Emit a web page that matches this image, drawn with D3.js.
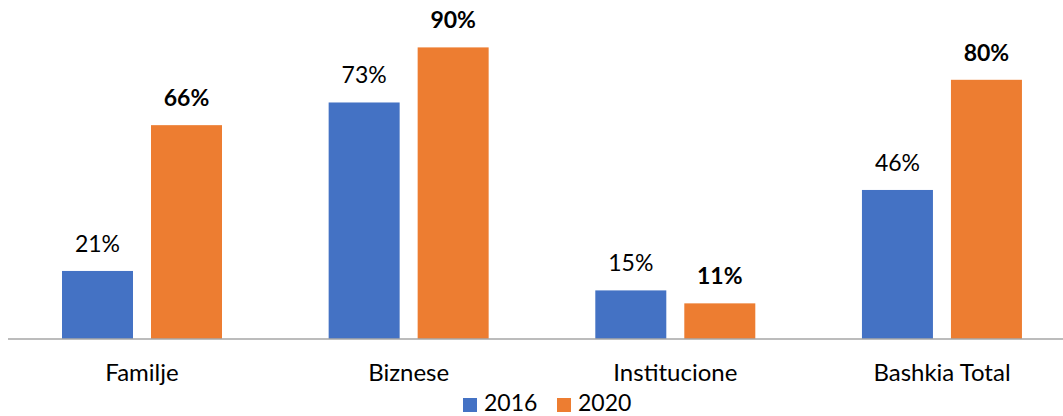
<!DOCTYPE html>
<html><head><meta charset="utf-8">
<script src="https://cdn.jsdelivr.net/npm/d3@7"></script>
<style>body{margin:0;background:#fff;} text{font-family:Lato,"Open Sans",sans-serif;fill:#000;}</style>
</head><body>
<svg id="c" width="1063" height="416"></svg>
<script>
const categories = ["Familje","Biznese","Institucione","Bashkia Total"];
const series = ["2016","2020"];
const values2016 = [21,73,15,46];
const values2020 = [66,90,11,80];
const colors = ["#4472C4","#ED7D31"];
const boldLabels = [false,true];

const svg = d3.select("#c");
const baseY = 339;
const y = d3.scaleLinear().domain([0,100]).range([baseY, baseY-324]);
const x0 = d3.scaleBand().domain(categories).range([8.7,1075.3]).padding(0);
const x1 = d3.scaleBand().domain(series).range([53.3,213.3]).paddingInner(18/89).paddingOuter(0);

const data = categories.map((c,i)=>({cat:c, vals:[values2016[i], values2020[i]]}));

const g = svg.selectAll("g.cat").data(data).join("g").attr("class","cat")
  .attr("transform",d=>`translate(${x0(d.cat)},0)`);

g.selectAll("rect").data(d=>d.vals.map((v,j)=>({v,j}))).join("rect")
  .attr("x",d=>x1(series[d.j])).attr("width",x1.bandwidth())
  .attr("y",d=>y(d.v)).attr("height",d=>baseY-y(d.v))
  .attr("fill",d=>colors[d.j]);

g.selectAll("text.lbl").data(d=>d.vals.map((v,j)=>({v,j}))).join("text").attr("class","lbl")
  .attr("x",d=>x1(series[d.j])+x1.bandwidth()/2).attr("y",d=>y(d.v)-19)
  .attr("text-anchor","middle").style("font-size","23px")
  .style("font-weight",d=>boldLabels[d.j]?"bold":"normal")
  .text(d=>d.v+"%");

// axis
const axis = d3.axisBottom(x0).tickSize(0).tickPadding(0);
const ax = svg.append("g").attr("transform",`translate(0,${baseY})`).call(axis);
ax.select(".domain").attr("stroke","#A6A6A6").attr("stroke-width",1.3).attr("d","M8,0H1063");
ax.selectAll(".tick text").attr("dy",null).attr("y",42).style("font-size","24px").style("font-family","Lato,'Open Sans',sans-serif").attr("fill","#000");

// legend
const leg = svg.append("g");
const legX = [463,557];
series.forEach((s,i)=>{
  leg.append("rect").attr("x",legX[i]).attr("y",398).attr("width",14).attr("height",14).attr("fill",colors[i]);
  leg.append("text").attr("x",legX[i]+21).attr("y",411).style("font-size","23px").text(s);
});
</script>
</body></html>
